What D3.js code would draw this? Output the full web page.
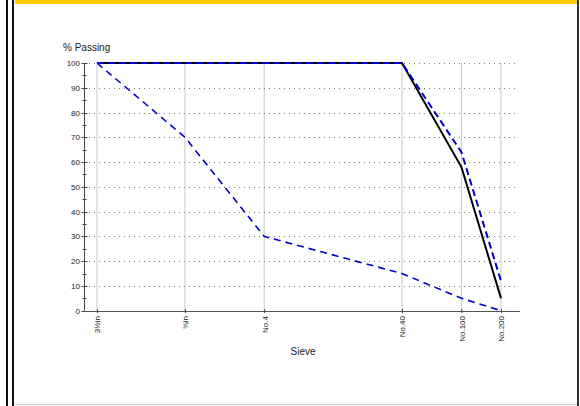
<!DOCTYPE html>
<html><head><meta charset="utf-8">
<script src="https://cdn.jsdelivr.net/npm/d3@7/dist/d3.min.js"></script>
<style>body{margin:0;background:#fff;}svg{display:block;font-family:Arial,"Liberation Sans",sans-serif;}</style>
</head><body>
<svg id="c" width="580" height="406"></svg>
<script>
const sieves = ["3½in","¾in","No.4","No.40","No.100","No.200"];
const sizesMm = [88.9, 19.05, 4.75, 0.425, 0.15, 0.075];
const seriesBlack = [100,100,100,100,58,5];
const seriesUpper = [100,100,100,100,64,12];
const seriesLower = [100,70,30,15,5,0];
const yTicks = [0,10,20,30,40,50,60,70,80,90,100];

const svg = d3.select("#c");
// frame
svg.append("rect").attr("x",6).attr("y",0).attr("width",2).attr("height",406).attr("fill","#111");
svg.append("rect").attr("x",12).attr("y",0).attr("width",2).attr("height",406).attr("fill","#111");
svg.append("rect").attr("x",15).attr("y",0).attr("width",562).attr("height",4).attr("fill","#ffc800");
svg.append("rect").attr("x",577).attr("y",0).attr("width",2).attr("height",406).attr("fill","#333");
svg.append("line").attr("x1",15).attr("x2",577).attr("y1",404.5).attr("y2",404.5).attr("stroke","#c8c8c8");

const x = d3.scaleLog().domain([sizesMm[0], sizesMm[sizesMm.length-1]]).range([97,501]);
const y = d3.scaleLinear().domain([0,100]).range([310.7,63]);
const axL = 84, axR = 520, gridR = 517;

const g = svg.append("g");
// vertical grid
g.selectAll(".vg").data(sizesMm).join("line")
  .attr("x1",d=>x(d)).attr("x2",d=>x(d)).attr("y1",y(100)).attr("y2",y(0))
  .attr("stroke","#c8c8c8").attr("stroke-width",1);
// horizontal dotted grid
g.selectAll(".hg").data(yTicks.filter(d=>d>0)).join("line")
  .attr("x1",axL).attr("x2",gridR).attr("y1",d=>Math.round(y(d))+0.5).attr("y2",d=>Math.round(y(d))+0.5)
  .attr("stroke","#7a7a7a").attr("stroke-width",1).attr("stroke-dasharray","1,4");

// y axis
const yAxis = d3.axisLeft(y).tickValues(yTicks).tickSize(0).tickPadding(4);
const ya = svg.append("g").attr("transform",`translate(${axL+0.5},0)`).call(yAxis);
ya.select(".domain").remove();
ya.selectAll("text").attr("font-size","8px").attr("fill","#222").attr("x",-4.5);
svg.append("line").attr("x1",axL+0.5).attr("x2",axL+0.5).attr("y1",y(100)).attr("y2",y(0)).attr("stroke","#444");
const minor = d3.range(0,101,5);
svg.selectAll(".yt").data(minor).join("line")
  .attr("x1",d=>axL+0.5-(d%10===0?3:2)).attr("x2",d=>axL+0.5+(d%10===0?3:2))
  .attr("y1",d=>Math.round(y(d))+0.5).attr("y2",d=>Math.round(y(d))+0.5)
  .attr("stroke","#444");

// x axis
svg.append("line").attr("x1",axL).attr("x2",axR).attr("y1",Math.round(y(0))+0.5).attr("y2",Math.round(y(0))+0.5).attr("stroke","#555");
const xAxis = d3.axisBottom(x).tickValues(sizesMm).tickFormat((d,i)=>sieves[i]).tickSize(3);
const xa = svg.append("g").attr("transform",`translate(0,${Math.round(y(0))-1})`).call(xAxis);
xa.select(".domain").remove();
xa.selectAll(".tick line").attr("stroke","#444").attr("y1",-1).attr("y2",3);
xa.selectAll("text").attr("font-size","8px").attr("fill","#222")
  .attr("text-anchor","end").attr("transform","rotate(-90)")
  .attr("x",-6).attr("y",0).attr("dy","0.35em");

// series
const line = d3.line().x((d,i)=>x(sizesMm[i])).y(d=>y(d));
svg.append("path").datum(seriesBlack).attr("d",line).attr("fill","none").attr("stroke","#000").attr("stroke-width",2);
svg.append("path").datum(seriesUpper).attr("d",line).attr("fill","none").attr("stroke","#0000d0").attr("stroke-width",2).attr("stroke-dasharray","7,4");
svg.append("path").datum(seriesLower).attr("d",line).attr("fill","none").attr("stroke","#0000d0").attr("stroke-width",1.6).attr("stroke-dasharray","7,5");

// titles
svg.append("text").attr("x",63).attr("y",51).attr("font-size","10px").attr("fill","#222").text("% Passing");
svg.append("text").attr("x",303).attr("y",355).attr("text-anchor","middle").attr("font-size","10px").attr("fill","#222").text("Sieve");
</script>
</body></html>
